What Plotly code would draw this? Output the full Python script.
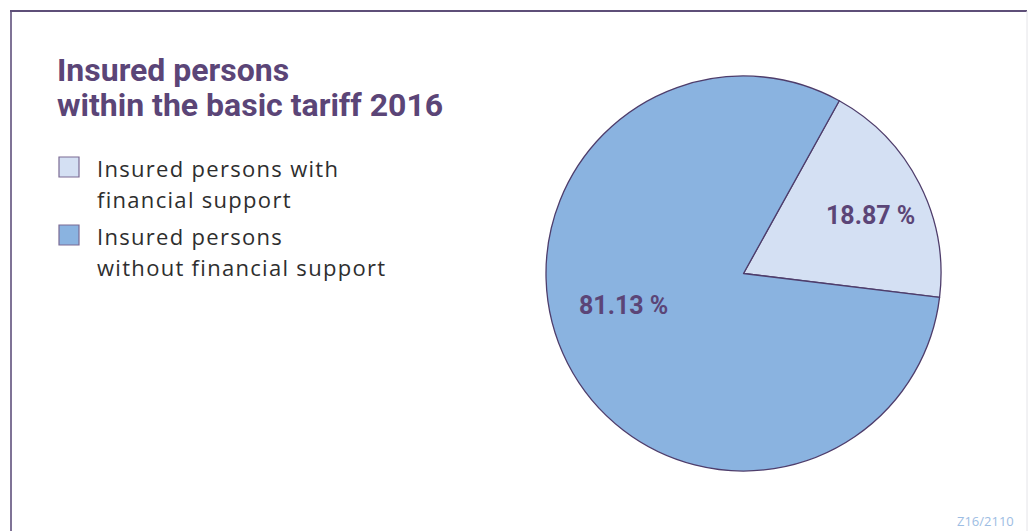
import plotly.graph_objects as go

# Share of insured persons within the basic tariff, 2016
categories = ["Insured persons with financial support",
              "Insured persons without financial support"]
shares = [18.87, 81.13]
slice_colors = ["#d4e0f3", "#8ab3e0"]

W, H = 1029, 531
PURPLE = "#5b4577"
OUTLINE = "#4e3d6b"


def px(x):
    return x / W


def py(y):
    return 1 - y / H


fig = go.Figure(go.Pie(
    labels=categories,
    values=shares,
    sort=False,
    direction="clockwise",
    rotation=29,
    marker=dict(colors=slice_colors, line=dict(color=OUTLINE, width=1.3)),
    textinfo="none",
    hoverinfo="label+value",
    showlegend=False,
    domain=dict(x=[px(546), px(941)], y=[py(473), py(74)]),
))

shapes = [
    # frame
    dict(type="line", xref="paper", yref="paper", x0=px(11), x1=px(11), y0=py(10), y1=py(531),
         line=dict(color="#7f7396", width=2)),
    dict(type="line", xref="paper", yref="paper", x0=px(10), x1=px(1027), y0=py(11), y1=py(11),
         line=dict(color="#5e4f78", width=2)),
    dict(type="line", xref="paper", yref="paper", x0=px(1027), x1=px(1027), y0=py(11), y1=py(531),
         line=dict(color="#e4e4e8", width=1)),
]

annotations = []

# title
for i, line in enumerate(["Insured persons", "within the basic tariff 2016"]):
    annotations.append(dict(
        text=f"<b>{line}</b>", xref="paper", yref="paper", x=px(55), y=py(70 + i * 35),
        xanchor="left", yanchor="middle", showarrow=False,
        font=dict(family="Roboto", size=32, color=PURPLE)))

# legend (swatch + two-line label per category)
legend_lines = [["Insured persons with", "financial support"],
                ["Insured persons", "without financial support"]]
for k, (lines, col) in enumerate(zip(legend_lines, slice_colors)):
    top = 157 + k * 68
    shapes.append(dict(type="rect", xref="paper", yref="paper",
                       x0=px(59), x1=px(79), y0=py(top), y1=py(top + 20),
                       fillcolor=col, line=dict(color="#7a6a94", width=1.2)))
    for j, t in enumerate(lines):
        annotations.append(dict(
            text=f'<span style="letter-spacing:1.3px">{t}</span>',
            xref="paper", yref="paper", x=px(95), y=py(top + 11 + j * 31),
            xanchor="left", yanchor="middle", showarrow=False,
            font=dict(family="Open Sans", size=22, color="#2e2e2e", weight=400)))

# slice value labels
label_pos = [(870, 215), (623, 305)]
for v, (lx, ly) in zip(shares, label_pos):
    annotations.append(dict(
        text=f"<b>{v:.2f} %</b>", xref="paper", yref="paper", x=px(lx), y=py(ly),
        xanchor="center", yanchor="middle", showarrow=False,
        font=dict(family="Roboto", size=25, color=PURPLE)))

# reference code
annotations.append(dict(
    text="Z16/2110", xref="paper", yref="paper", x=px(1016), y=py(521),
    xanchor="right", yanchor="middle", showarrow=False,
    font=dict(family="Open Sans", size=13, color="#9dbde3")))

fig.update_layout(
    width=W, height=H,
    margin=dict(l=0, r=0, t=0, b=0),
    paper_bgcolor="white", plot_bgcolor="white",
    shapes=shapes, annotations=annotations,
)

fig.write_html("out.html")
